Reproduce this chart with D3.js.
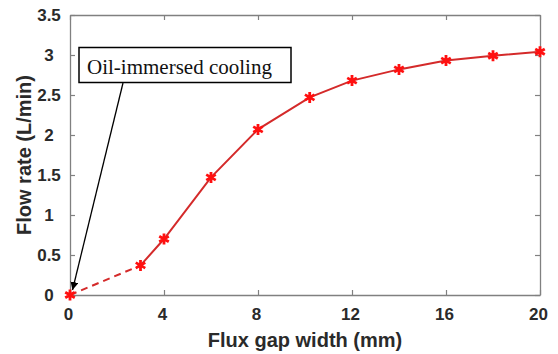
<!DOCTYPE html>
<html>
<head>
<meta charset="utf-8">
<script src="https://cdn.jsdelivr.net/npm/d3@7"></script>
<style>
  body { margin: 0; background: #fff; }
  svg { display: block; }
</style>
</head>
<body>
<div id="chart"></div>
<script>
// flux gap width (mm) and flow rate (L/min)
var gapWidth = [0, 3, 4, 6, 8, 10.2, 12, 14, 16, 18, 20];
var flowRate = [0, 0.37, 0.70, 1.47, 2.07, 2.47, 2.68, 2.82, 2.93, 2.99, 3.04];
var xTicks = [0, 4, 8, 12, 16, 20];
var yTicks = [0, 0.5, 1, 1.5, 2, 2.5, 3, 3.5];
var annotation = "Oil-immersed cooling";

var width = 558, height = 354;
var margin = { top: 15, right: 18, bottom: 59, left: 70 };
var w = width - margin.left - margin.right;
var h = height - margin.top - margin.bottom;

var svg = d3.select("#chart").append("svg")
    .attr("width", width)
    .attr("height", height);

var g = svg.append("g")
    .attr("transform", "translate(" + margin.left + "," + margin.top + ")");

var x = d3.scaleLinear().domain([0, 20]).range([0, w]);
var y = d3.scaleLinear().domain([0, 3.5]).range([h, 0]);

var axisColor = "#808080";
var tickFont = "bold 17px Arial, 'Liberation Sans', sans-serif";
var fmt = d3.format("~g");

// box frame with inward ticks on all sides
function styleAxis(sel, showText) {
    sel.select(".domain").attr("stroke", axisColor).attr("stroke-width", 1.3);
    sel.selectAll(".tick line").attr("stroke", axisColor).attr("stroke-width", 1.2);
    sel.selectAll(".tick text")
        .style("font", tickFont)
        .attr("fill", "#2a2a2a")
        .attr("display", showText ? null : "none");
}

g.append("g")
    .attr("transform", "translate(0," + h + ")")
    .call(d3.axisBottom(x).tickValues(xTicks).tickFormat(fmt).tickSizeInner(-5).tickSizeOuter(0).tickPadding(13))
    .call(styleAxis, true)
    .selectAll(".tick text").attr("x", -2);
g.append("g")
    .call(d3.axisTop(x).tickValues(xTicks).tickSizeInner(-5).tickSizeOuter(0))
    .call(styleAxis, false);
g.append("g")
    .call(d3.axisLeft(y).tickValues(yTicks).tickFormat(fmt).tickSizeInner(-5).tickSizeOuter(0))
    .call(styleAxis, true)
    .selectAll(".tick text").attr("x", -21).attr("text-anchor", "middle");
g.append("g")
    .attr("transform", "translate(" + w + ",0)")
    .call(d3.axisRight(y).tickValues(yTicks).tickSizeInner(-5).tickSizeOuter(0))
    .call(styleAxis, false);

// axis titles
var titleFont = "bold 20px Arial, 'Liberation Sans', sans-serif";
svg.append("text")
    .attr("x", margin.left + w / 2)
    .attr("y", 347)
    .attr("text-anchor", "middle")
    .style("font", titleFont)
    .attr("fill", "#2a2a2a")
    .text("Flux gap width (mm)");

svg.append("text")
    .attr("transform", "translate(31," + (margin.top + h / 2) + ") rotate(-90)")
    .attr("text-anchor", "middle")
    .style("font", titleFont)
    .attr("fill", "#2a2a2a")
    .text("Flow rate (L/min)");

var pts = gapWidth.map(function (d, i) { return [d, flowRate[i]]; });
var line = d3.line()
    .x(function (d) { return x(d[0]); })
    .y(function (d) { return y(d[1]); });

var lineColor = "#d42a2a";
// dashed segment from the oil-immersed point, solid afterwards
g.append("path")
    .datum(pts.slice(0, 2))
    .attr("d", line)
    .attr("fill", "none")
    .attr("stroke", lineColor)
    .attr("stroke-width", 2)
    .attr("stroke-dasharray", "7,5");
g.append("path")
    .datum(pts.slice(1))
    .attr("d", line)
    .attr("fill", "none")
    .attr("stroke", lineColor)
    .attr("stroke-width", 2);

var star = d3.symbol().type(d3.symbolAsterisk).size(85);
g.selectAll(".marker")
    .data(pts)
    .enter().append("path")
    .attr("class", "marker")
    .attr("transform", function (d) { return "translate(" + x(d[0]) + "," + y(d[1]) + ")"; })
    .attr("d", star)
    .attr("fill", "none")
    .attr("stroke", "#ff1010")
    .attr("stroke-width", 2.8);

// annotation arrow and box
svg.append("defs").append("marker")
    .attr("id", "head")
    .attr("viewBox", "0 0 10 10")
    .attr("refX", 10).attr("refY", 5)
    .attr("markerWidth", 8).attr("markerHeight", 8)
    .attr("markerUnits", "userSpaceOnUse")
    .attr("orient", "auto")
    .append("path")
    .attr("d", "M0,0L10,5L0,10z")
    .attr("fill", "#000");

svg.append("line")
    .attr("x1", 123).attr("y1", 83)
    .attr("x2", margin.left + x(gapWidth[0]) + 2.5)
    .attr("y2", margin.top + y(flowRate[0]) - 5)
    .attr("stroke", "#000")
    .attr("stroke-width", 1.3)
    .attr("marker-end", "url(#head)");

svg.append("rect")
    .attr("x", 79).attr("y", 47.5)
    .attr("width", 212).attr("height", 35)
    .attr("fill", "#fff")
    .attr("stroke", "#000")
    .attr("stroke-width", 1.5);

svg.append("text")
    .attr("x", 87).attr("y", 74)
    .style("font", "21px 'Liberation Serif', 'Times New Roman', serif")
    .attr("fill", "#111")
    .text(annotation);
</script>
</body>
</html>
